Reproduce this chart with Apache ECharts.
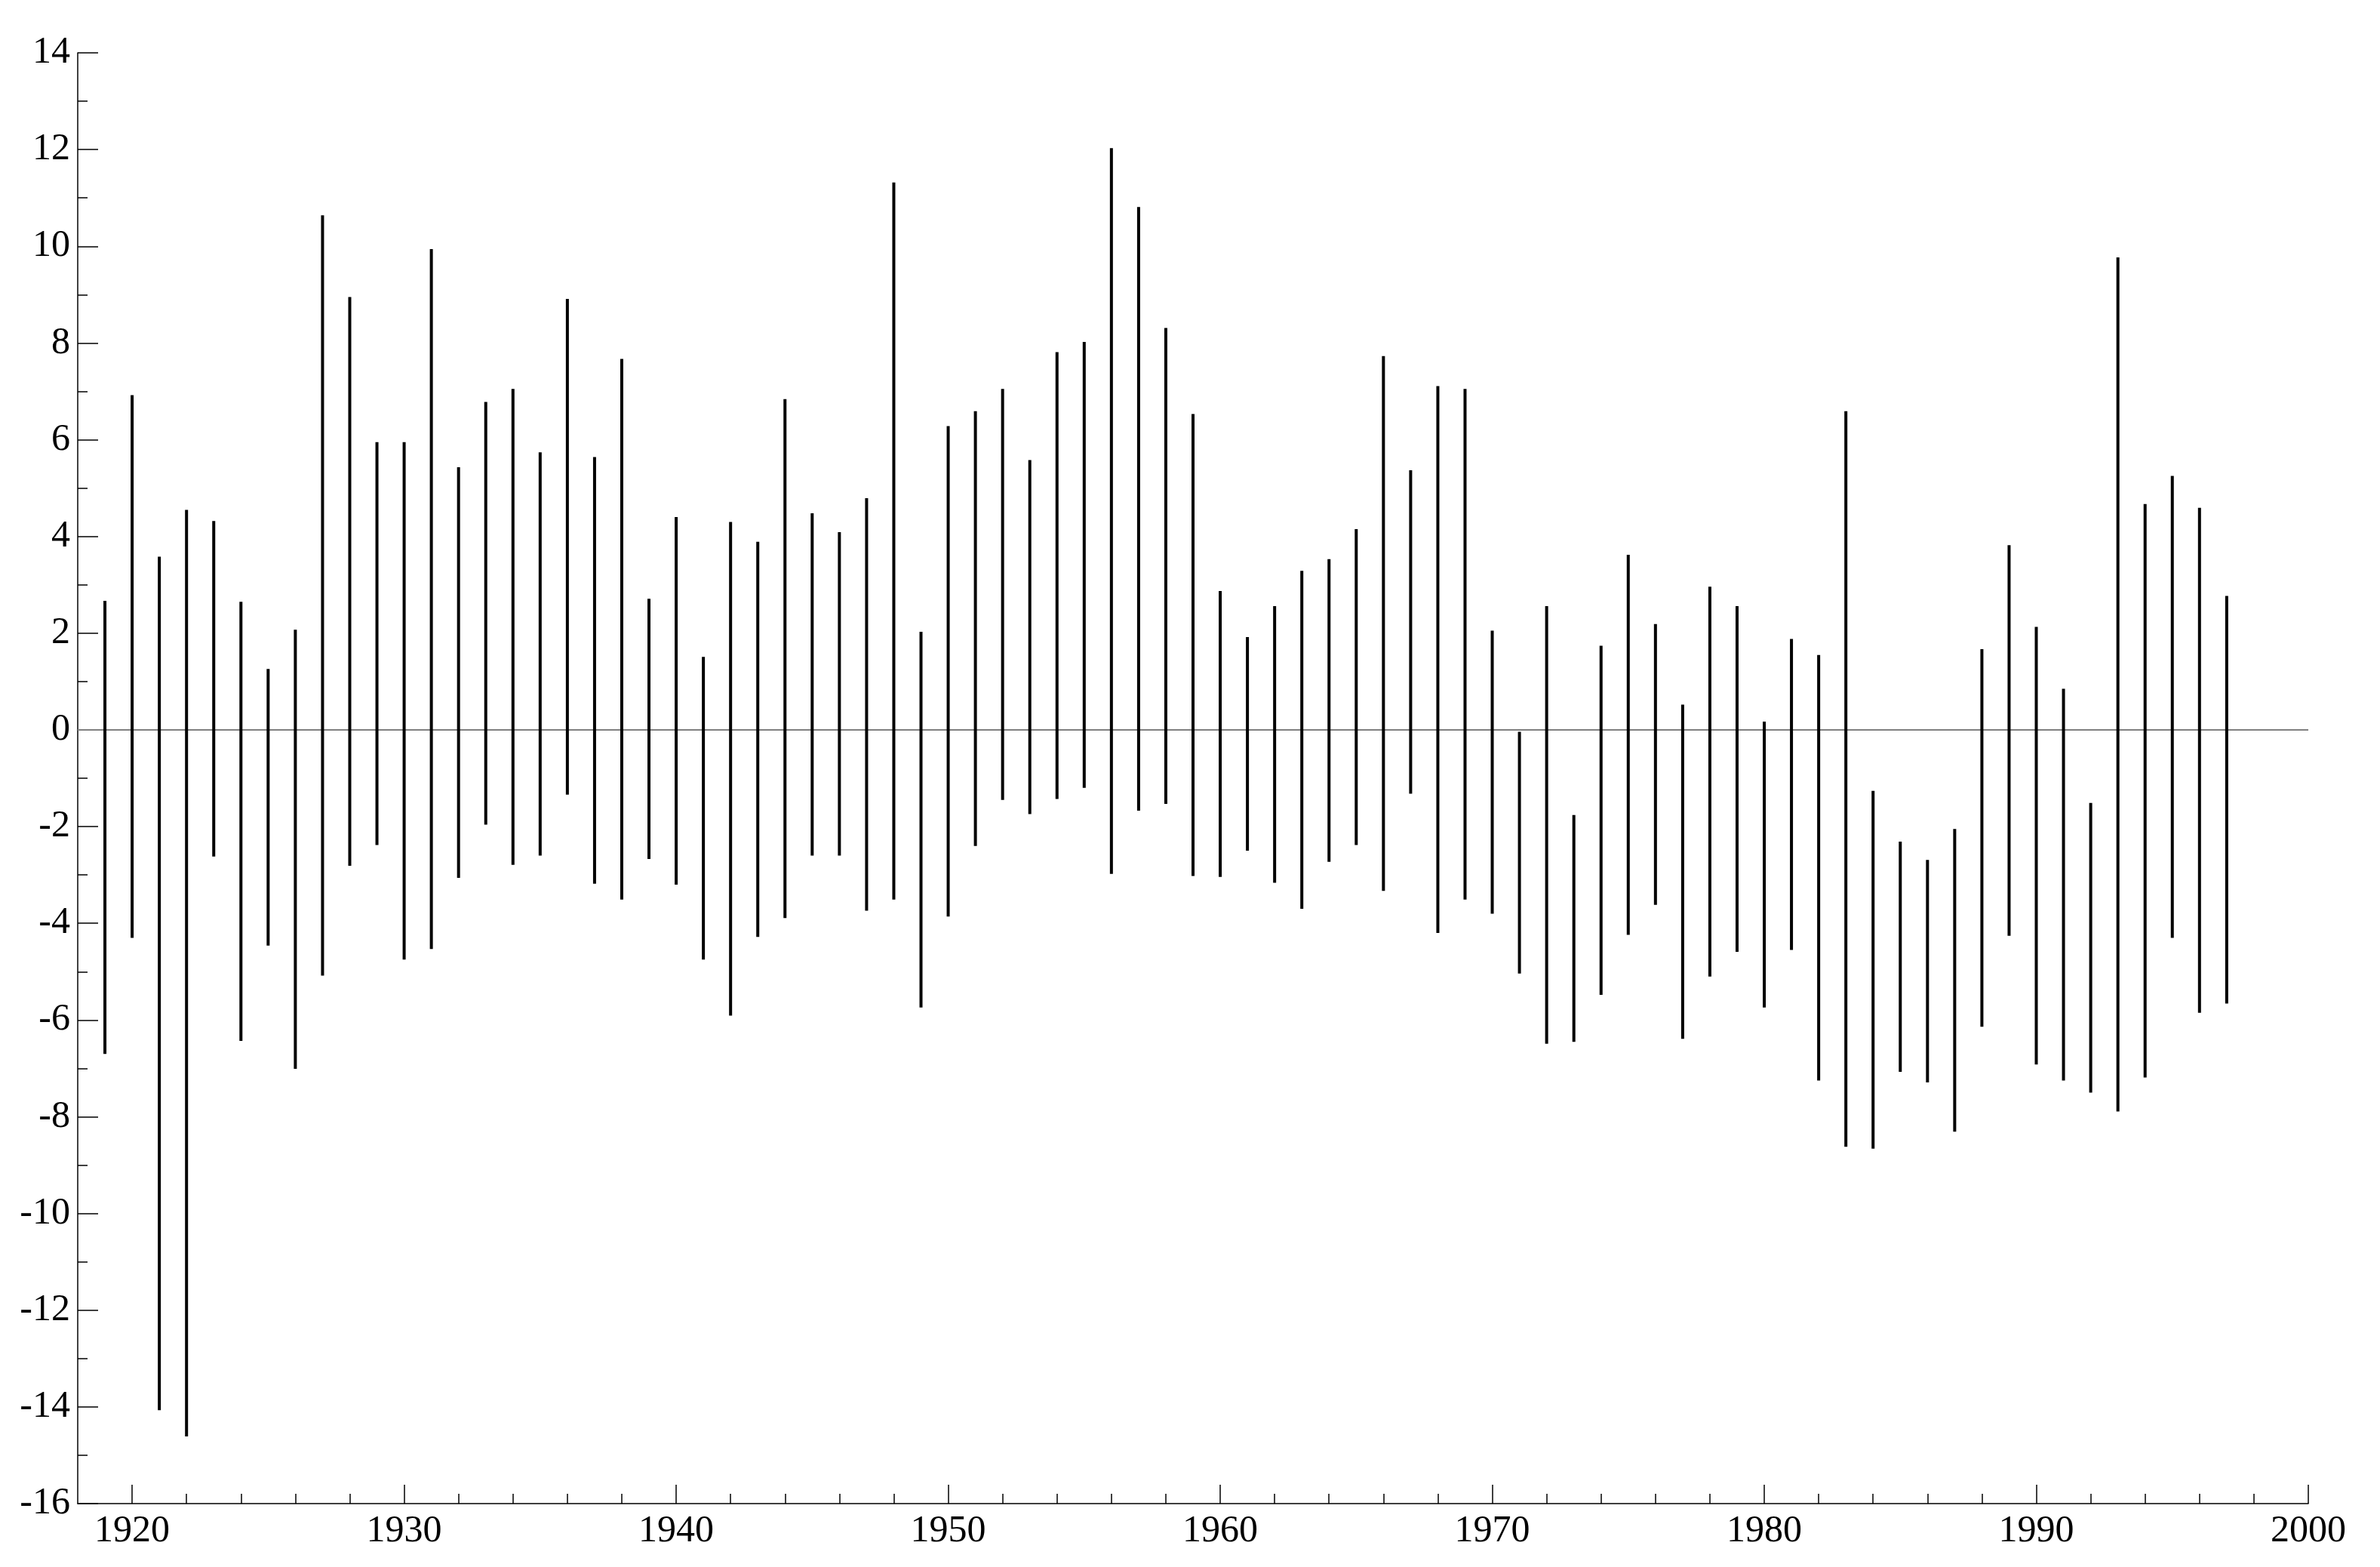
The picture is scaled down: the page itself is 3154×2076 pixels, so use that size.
<!DOCTYPE html>
<html><head><meta charset="utf-8">
<script src="https://cdn.jsdelivr.net/npm/echarts@6/dist/echarts.min.js"></script>
<style>html,body{margin:0;padding:0;background:#fff}#c{width:3154px;height:2076px}</style>
</head><body><div id="c"></div>
<script>
const years = [1919,1920,1921,1922,1923,1924,1925,1926,1927,1928,1929,1930,1931,1932,
  1933,1934,1935,1936,1937,1938,1939,1940,1941,1942,1943,1944,1945,1946,
  1947,1948,1949,1950,1951,1952,1953,1954,1955,1956,1957,1958,1959,1960,1961,
  1962,1963,1964,1965,1966,1967,1968,1969,1970,1971,1972,1973,1974,1975,
  1976,1977,1978,1979,1980,1981,1982,1983,1984,1985,1986,1987,1988,1989,1990,
  1991,1992,1993,1994,1995,1996,1997];
const highs = [2.67,6.92,3.58,4.55,4.32,2.65,1.26,2.07,10.64,8.95,5.95,5.95,9.94,5.43,
  6.78,7.05,5.74,8.91,5.64,7.67,2.71,4.40,1.51,4.30,3.89,6.84,4.48,4.09,
  4.79,11.32,2.03,6.28,6.59,7.05,5.58,7.81,8.02,12.03,10.81,8.31,6.53,2.87,1.92,
  2.56,3.29,3.53,4.15,7.73,5.37,7.11,7.05,2.05,-0.04,2.56,-1.76,1.74,3.62,
  2.19,0.52,2.96,2.56,0.17,1.88,1.55,6.59,-1.26,-2.31,-2.69,-2.05,1.67,3.82,2.13,
  0.85,-1.51,9.77,4.67,5.25,4.59,2.77];
const lows = [-6.70,-4.30,-14.07,-14.61,-2.62,-6.43,-4.46,-7.01,-5.08,-2.81,-2.38,-4.75,-4.53,-3.06,
  -1.96,-2.79,-2.60,-1.34,-3.18,-3.51,-2.67,-3.20,-4.75,-5.91,-4.28,-3.89,-2.60,-2.60,
  -3.74,-3.51,-5.74,-3.86,-2.40,-1.45,-1.74,-1.43,-1.20,-2.98,-1.67,-1.53,-3.02,-3.04,-2.50,
  -3.16,-3.70,-2.73,-2.38,-3.33,-1.32,-4.20,-3.51,-3.80,-5.04,-6.49,-6.45,-5.48,-4.24,
  -3.62,-6.39,-5.10,-4.59,-5.74,-4.55,-7.25,-8.62,-8.66,-7.07,-7.29,-8.31,-6.14,-4.26,-6.92,
  -7.25,-7.50,-7.89,-7.19,-4.30,-5.85,-5.66];
const xMajorTicks = [1920,1930,1940,1950,1960,1970,1980,1990,2000];
const xMinorTicks = [1922,1924,1926,1928,1932,1934,1936,1938,1942,1944,1946,1948,
  1952,1954,1956,1958,1962,1964,1966,1968,1972,1974,1976,1978,1982,1984,1986,1988,
  1992,1994,1996,1998];

const data = years.map((y, i) => [y, lows[i], highs[i]]);
const font = 'Liberation Serif';
const chart = echarts.init(document.getElementById('c'), null, {renderer: 'canvas'});
chart.setOption({
  animation: false,
  backgroundColor: '#ffffff',
  grid: {left: 103, top: 70, right: 95, bottom: 84, containLabel: false, outerBoundsMode: 'none'},
  xAxis: [{
    type: 'value', min: 1918, max: 2000, position: 'bottom',
    axisLine: {show: true, onZero: false, lineStyle: {color: '#000', width: 1.5}},
    axisTick: {show: true, inside: true, length: 25, customValues: xMajorTicks, lineStyle: {color: '#000', width: 1.5}},
    axisLabel: {show: true, customValues: xMajorTicks, formatter: v => String(v), margin: 12, fontFamily: font, fontSize: 50, color: '#000'},
    splitLine: {show: false}
  }, {
    type: 'value', min: 1918, max: 2000, position: 'bottom',
    axisLine: {show: false, onZero: false},
    axisTick: {show: true, inside: true, length: 13, customValues: xMinorTicks, lineStyle: {color: '#000', width: 1.5}},
    axisLabel: {show: false},
    splitLine: {show: false}
  }],
  yAxis: {
    type: 'value', min: -16, max: 14, interval: 2,
    axisLine: {show: true, onZero: false, lineStyle: {color: '#000', width: 1.5}},
    axisTick: {show: true, inside: true, length: 27, lineStyle: {color: '#000', width: 1.5}},
    minorTick: {show: true, splitNumber: 2, length: 13, lineStyle: {color: '#000', width: 1.5}},
    axisLabel: {margin: 10, fontFamily: font, fontSize: 50, color: '#000'},
    splitLine: {show: false}
  },
  series: [{
    type: 'custom',
    xAxisIndex: 0,
    z: 3,
    data: data,
    encode: {x: 0, y: [1, 2]},
    renderItem: function (params, api) {
      const x = api.value(0);
      const p1 = api.coord([x, api.value(2)]);
      const p2 = api.coord([x, api.value(1)]);
      return {type: 'line', shape: {x1: p1[0], y1: p1[1], x2: p2[0], y2: p2[1]},
        style: {stroke: '#000', lineWidth: 4, lineCap: 'butt'}};
    },
    markLine: {
      silent: true, symbol: 'none', z: 1,
      label: {show: false},
      lineStyle: {color: '#808080', width: 2, type: 'solid'},
      data: [{yAxis: 0}]
    }
  }]
});
</script></body></html>
